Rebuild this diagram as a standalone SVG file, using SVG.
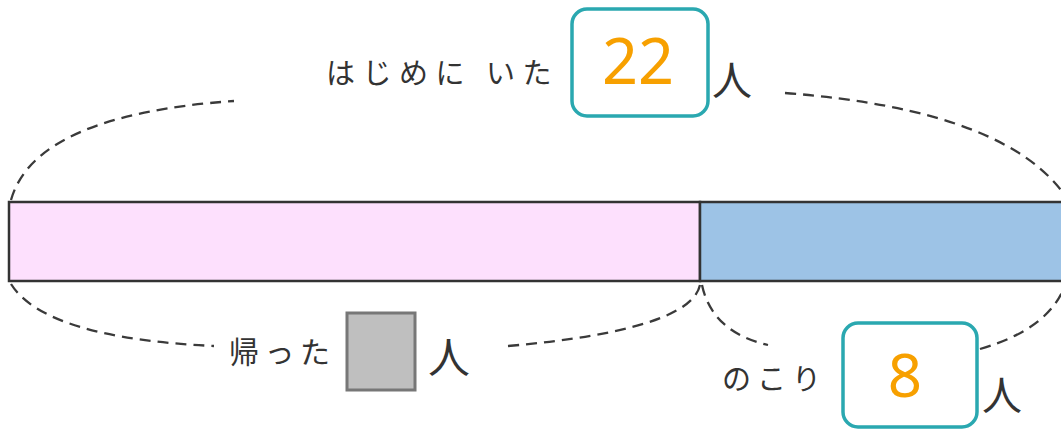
<svg xmlns="http://www.w3.org/2000/svg" width="1061" height="430" viewBox="0 0 1061 430">
<style>
.lbl{font-family:"Noto Sans CJK JP","Noto Sans",sans-serif;fill:#333;}
.num{font-family:"Noto Sans","Noto Sans CJK JP",sans-serif;fill:#f7a000;text-anchor:middle;}
.dash{fill:none;stroke:#3a3a3a;stroke-width:2.3;stroke-dasharray:11 7;}
.box{fill:#fff;stroke:#2aa8b0;stroke-width:3.5;}
</style>
<rect width="1061" height="430" fill="#fff"/>
<g id="bar">
<rect x="9" y="202" width="691" height="79" fill="#fde0fd" stroke="#333" stroke-width="2.5"/>
<rect x="700" y="202" width="370" height="79" fill="#9dc3e6" stroke="#333" stroke-width="2.5"/>
</g>
<g id="connectors">
<path class="dash" d="M11,200 Q35,115 234,101"/>
<path class="dash" d="M785,93 Q1010,110 1068,200"/>
<path class="dash" d="M11,284 Q45,338 214,346"/>
<path class="dash" d="M508,346 Q690,330 700,285"/>
<path class="dash" d="M702,285 Q712,332 768,345"/>
<path class="dash" d="M980,349 Q1052,328 1066,282"/>
</g>
<g id="top-label">
<text class="lbl" x="326" y="84" font-size="29" letter-spacing="7.5">はじめに いた</text>
<rect class="box" x="572" y="9" width="136" height="107" rx="15"/>
<text class="num" x="638" y="84" font-size="63">22</text>
<text class="lbl" x="712" y="95" font-size="40">人</text>
</g>
<g id="left-label">
<text class="lbl" x="229" y="363" font-size="30" letter-spacing="5.5">帰った</text>
<rect x="347" y="313" width="68" height="77" fill="#bfbfbf" stroke="#777" stroke-width="3"/>
<text class="lbl" x="428" y="373" font-size="42">人</text>
</g>
<g id="right-label">
<text class="lbl" x="722" y="390" font-size="29" letter-spacing="6">のこり</text>
<rect class="box" x="843" y="323" width="134" height="104" rx="15"/>
<text class="num" x="905" y="397" font-size="60">8</text>
<text class="lbl" x="982" y="410" font-size="40">人</text>
</g>
</svg>
